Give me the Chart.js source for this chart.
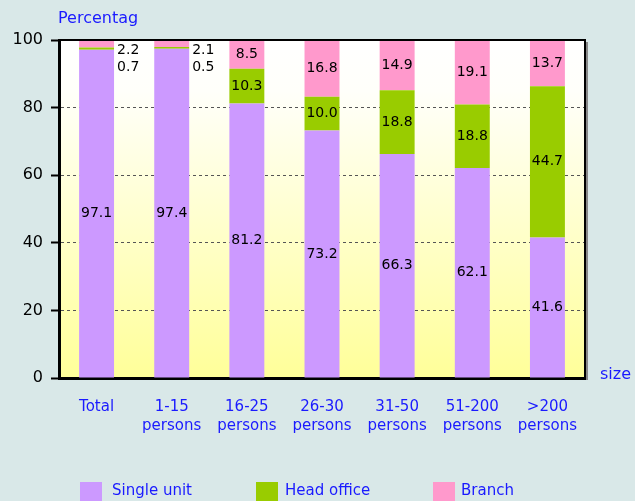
<!DOCTYPE html>
<html>
<head>
<meta charset="utf-8">
<script src="https://cdn.jsdelivr.net/npm/chart.js@4/dist/chart.umd.min.js"></script>
<style>
  html, body { margin: 0; padding: 0; background: #d9e8e8; }
  #wrap { position: relative; width: 635px; height: 501px; overflow: hidden; font-family: "DejaVu Sans", sans-serif; }
  canvas { position: absolute; left: 0; top: 0; }
  .lbl { position: absolute; color: #1a1aff; white-space: nowrap; }
  .sw { position: absolute; width: 22px; height: 22px; top: 482px; }
</style>
</head>
<body>
<div id="wrap">
  <canvas id="chart" width="635" height="501"></canvas>
  <div class="lbl" style="left:58px;top:8px;font-size:16px;">Percentag</div>
  <div class="lbl" style="left:600px;top:364px;font-size:16px;">size</div>
  <div class="sw" style="left:80px;background:#cc99ff;"></div>
  <div class="lbl" style="left:112px;top:481px;font-size:15px;">Single unit</div>
  <div class="sw" style="left:256px;background:#99cc00;"></div>
  <div class="lbl" style="left:285px;top:481px;font-size:15px;">Head office</div>
  <div class="sw" style="left:433px;background:#ff99cc;"></div>
  <div class="lbl" style="left:461px;top:481px;font-size:15px;">Branch</div>
</div>
<script>
const categories = [["Total"], ["1-15", "persons"], ["16-25", "persons"], ["26-30", "persons"],
  ["31-50", "persons"], ["51-200", "persons"], [">200", "persons"]];
const singleUnit = [97.1, 97.4, 81.2, 73.2, 66.3, 62.1, 41.6];
const headOffice = [0.7, 0.5, 10.3, 10.0, 18.8, 18.8, 44.7];
const branch = [2.2, 2.1, 8.5, 16.8, 14.9, 19.1, 13.7];
const yTicks = [0, 20, 40, 60, 80, 100];

// dégradé blanc -> jaune dans la zone du graphique
const plotBackground = {
  id: 'plotBackground',
  beforeDraw(chart) {
    const { ctx, chartArea: a } = chart;
    const g = ctx.createLinearGradient(0, a.top, 0, a.bottom);
    g.addColorStop(0, '#ffffff');
    g.addColorStop(0.15, '#fffffa');
    g.addColorStop(1, '#ffff99');
    ctx.save();
    ctx.fillStyle = g;
    ctx.fillRect(a.left, a.top, a.right - a.left, a.bottom - a.top);
    ctx.restore();
  }
};

// cadre haut / droite avec ombre
const plotFrame = {
  id: 'plotFrame',
  afterDraw(chart) {
    const { ctx, chartArea: a } = chart;
    ctx.save();
    ctx.strokeStyle = '#888';
    ctx.lineWidth = 2;
    ctx.beginPath();
    ctx.moveTo(a.right + 2, a.top + 2);
    ctx.lineTo(a.right + 2, a.bottom + 2);
    ctx.stroke();
    ctx.strokeStyle = '#000';
    ctx.lineWidth = 2;
    ctx.beginPath();
    ctx.moveTo(a.left, a.top);
    ctx.lineTo(a.right, a.top);
    ctx.lineTo(a.right, a.bottom);
    ctx.stroke();
    ctx.restore();
  }
};

// étiquettes de valeurs
const valueLabels = {
  id: 'valueLabels',
  afterDatasetsDraw(chart) {
    const { ctx } = chart;
    ctx.save();
    ctx.font = '14px "DejaVu Sans"';
    ctx.fillStyle = '#000';
    ctx.textBaseline = 'middle';
    chart.data.datasets.forEach((ds, di) => {
      chart.getDatasetMeta(di).data.forEach((bar, i) => {
        const v = ds.data[i];
        const txt = v.toFixed(1);
        if (v < 3) {
          ctx.textAlign = 'left';
          ctx.fillText(txt, bar.x + bar.width / 2 + 3, bar.y + (di === 2 ? 10 : 20));
        } else {
          ctx.textAlign = 'center';
          ctx.fillText(txt, bar.x, (bar.y + bar.base) / 2);
        }
      });
    });
    ctx.restore();
  }
};

new Chart(document.getElementById('chart'), {
  type: 'bar',
  data: {
    labels: categories,
    datasets: [
      { label: 'Single unit', data: singleUnit, backgroundColor: '#cc99ff' },
      { label: 'Head office', data: headOffice, backgroundColor: '#99cc00' },
      { label: 'Branch', data: branch, backgroundColor: '#ff99cc' }
    ]
  },
  options: {
    responsive: false,
    animation: false,
    layout: { padding: { top: 40, right: 50, left: 0, bottom: 0 } },
    datasets: { bar: { barPercentage: 0.465, categoryPercentage: 1 } },
    plugins: { legend: { display: false }, tooltip: { enabled: false } },
    scales: {
      x: {
        stacked: true,
        grid: { display: false, drawTicks: false },
        border: { display: true, color: '#000', width: 3 },
        ticks: { color: '#1a1aff', padding: 20, font: { family: 'DejaVu Sans', size: 15, lineHeight: 1.27 } },
        afterFit(scale) { scale.height = 123; }
      },
      y: {
        stacked: true,
        min: 0,
        max: 100,
        afterBuildTicks(scale) { scale.ticks = yTicks.map(v => ({ value: v })); },
        grid: {
          color: ctx => (ctx.tick && (ctx.tick.value === 0 || ctx.tick.value === 100)) ? 'rgba(0,0,0,0)' : '#555',
          tickColor: '#000',
          tickLength: 8,
          tickWidth: 2
        },
        border: { display: true, color: '#000', width: 3, dash: [3, 3] },
        ticks: { color: '#000', padding: 8, font: { family: 'DejaVu Sans', size: 16 } },
        afterFit(scale) { scale.width = 59; }
      }
    }
  },
  plugins: [plotBackground, valueLabels, plotFrame]
});
</script>
</body>
</html>
